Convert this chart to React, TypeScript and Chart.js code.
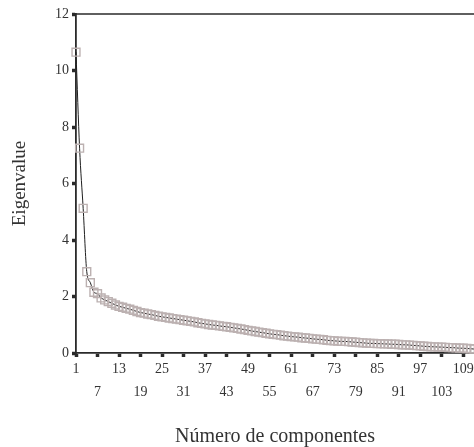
import React, { useEffect, useRef } from "react";
import { Chart, registerables } from "chart.js";

Chart.register(...registerables);

const components: number[] = Array.from({ length: 112 }, (_, i) => i + 1);
const eigenvalues: number[] = [
  10.65, 7.25, 5.12, 2.88, 2.49, 2.15, 2.1, 1.95, 1.88, 1.82,
  1.76, 1.7, 1.65, 1.62, 1.58, 1.55, 1.51, 1.47, 1.43, 1.41,
  1.38, 1.36, 1.33, 1.3, 1.28, 1.26, 1.24, 1.22, 1.2, 1.18,
  1.16, 1.14, 1.12, 1.1, 1.07, 1.05, 1.03, 1.01, 0.99, 0.98,
  0.96, 0.94, 0.93, 0.91, 0.89, 0.87, 0.85, 0.83, 0.8, 0.78,
  0.76, 0.74, 0.72, 0.7, 0.68, 0.66, 0.65, 0.63, 0.61, 0.6,
  0.58, 0.57, 0.56, 0.54, 0.53, 0.52, 0.5, 0.49, 0.48, 0.47,
  0.45, 0.44, 0.43, 0.42, 0.41, 0.41, 0.4, 0.39, 0.38, 0.37,
  0.36, 0.35, 0.34, 0.34, 0.33, 0.33, 0.32, 0.32, 0.31, 0.31,
  0.3, 0.29, 0.29, 0.28, 0.27, 0.26, 0.25, 0.24, 0.23, 0.22,
  0.22, 0.21, 0.21, 0.2, 0.19, 0.19, 0.18, 0.17, 0.17, 0.16,
  0.15, 0.14,
];
const xTickValues: number[] = [1, 7, 13, 19, 25, 31, 37, 43, 49, 55, 61, 67, 73, 79, 85, 91, 97, 103, 109];
const yTickValues: number[] = [0, 2, 4, 6, 8, 10, 12];
const xTitle = "Número de componentes";
const yTitle = "Eigenvalue";

const TEXT = "#333";
const AXIS = "#2a2a2a";
const FONT = "'Liberation Serif', 'Times New Roman', serif";

const topLinePlugin = {
  id: "topLine",
  afterDraw(chart: any) {
    const { ctx, chartArea } = chart;
    ctx.save();
    ctx.strokeStyle = AXIS;
    ctx.lineWidth = 1.5;
    ctx.beginPath();
    ctx.moveTo(chartArea.left, chartArea.top);
    ctx.lineTo(chartArea.right + 2, chartArea.top);
    ctx.stroke();
    ctx.restore();
  },
};

export default function App() {
  const ref = useRef<HTMLCanvasElement | null>(null);

  useEffect(() => {
    if (!ref.current) return;
    const chart = new Chart(ref.current, {
      type: "line",
      data: {
        datasets: [
          {
            data: components.map((c, i) => ({ x: c, y: eigenvalues[i] })),
            borderColor: "#1e1e1e",
            borderWidth: 1,
            tension: 0.4,
            cubicInterpolationMode: "monotone",
            pointStyle: "rect",
            pointRadius: 5.6,
            pointBorderWidth: 1.4,
            pointBorderColor: "rgb(188,177,177)",
            pointBackgroundColor: "rgba(0,0,0,0)",
            fill: false,
            clip: false,
          },
        ],
      },
      options: {
        animation: false,
        responsive: false,
        maintainAspectRatio: false,
        layout: { autoPadding: false, padding: { top: 14, right: 0, left: 0, bottom: 0 } },
        plugins: { legend: { display: false }, tooltip: { enabled: false } },
        scales: {
          x: {
            type: "linear",
            min: 1,
            max: 112,
            afterBuildTicks: (scale: any) => {
              scale.ticks = xTickValues.map((v) => ({ value: v }));
            },
            afterFit: (scale: any) => {
              scale.height = 94;
              scale.paddingLeft = 0;
              scale.paddingRight = 0;
            },
            grid: {
              drawOnChartArea: false,
              drawTicks: true,
              tickLength: 4,
              tickWidth: 3.5,
              tickColor: AXIS,
            },
            border: { display: true, color: AXIS, width: 1.8 },
            ticks: {
              autoSkip: false,
              maxRotation: 0,
              padding: 1,
              color: TEXT,
              font: { family: FONT, size: 14, lineHeight: 1.64 },
              callback: (value: any, index: number) =>
                index % 2 === 0 ? String(value) : ["", String(value)],
            },
            title: {
              display: true,
              text: xTitle,
              color: TEXT,
              font: { family: FONT, size: 20, lineHeight: 1 },
              padding: { top: 0, bottom: 0 },
            },
          },
          y: {
            min: 0,
            max: 12,
            afterBuildTicks: (scale: any) => {
              scale.ticks = yTickValues.map((v) => ({ value: v }));
            },
            afterFit: (scale: any) => {
              scale.width = 76;
              scale.paddingTop = 0;
              scale.paddingBottom = 0;
            },
            grid: {
              drawOnChartArea: false,
              drawTicks: true,
              tickLength: 4,
              tickWidth: 3.5,
              tickColor: AXIS,
            },
            border: { display: true, color: AXIS, width: 1.8 },
            ticks: {
              padding: 3,
              color: TEXT,
              font: { family: FONT, size: 14 },
            },
            title: {
              display: true,
              text: yTitle,
              color: TEXT,
              font: { family: FONT, size: 19, lineHeight: 1 },
              padding: { top: 10.5, bottom: 0 },
            },
          },
        },
      } as any,
      plugins: [topLinePlugin],
    });
    return () => chart.destroy();
  }, []);

  return (
    <div style={{ position: "absolute", left: 0, top: 0, width: 474, height: 447, background: "#fff" }}>
      <canvas ref={ref} width={474} height={447} style={{ display: "block", width: 474, height: 447 }} />
    </div>
  );
}
